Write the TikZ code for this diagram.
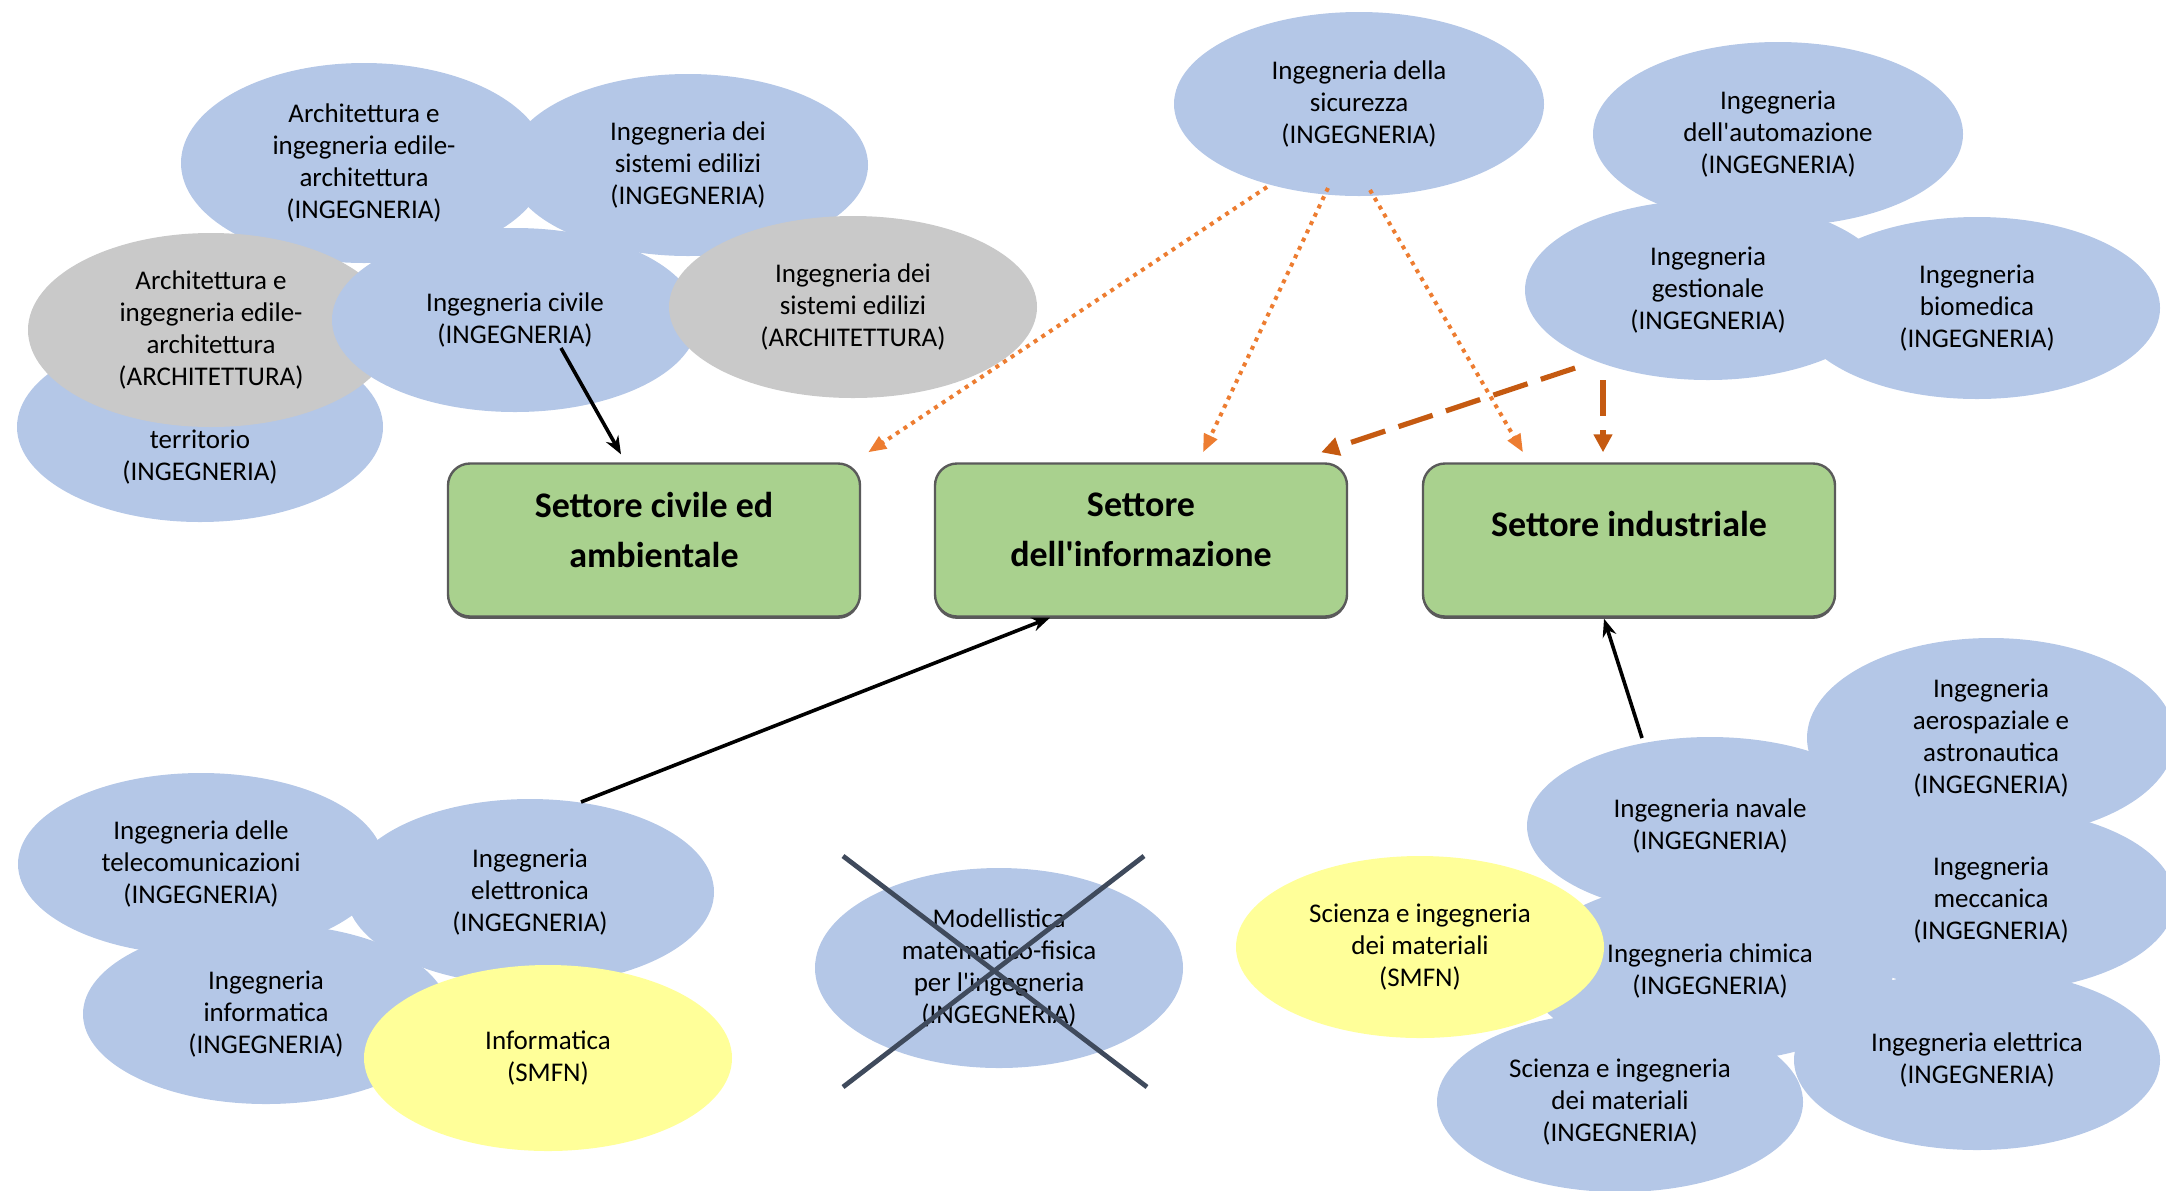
\documentclass[tikz,border=0pt]{standalone}
\usepackage{fontspec}
\setmainfont{Carlito}
\usetikzlibrary{shapes.geometric,arrows.meta,calc,shadows}

\definecolor{ellblue}{HTML}{B4C7E7}
\definecolor{ellgray}{HTML}{C9C9C9}
\definecolor{ellyellow}{HTML}{FFFF99}
\definecolor{boxgreen}{HTML}{A9D18E}
\definecolor{boxline}{HTML}{5A5A5A}
\definecolor{dotorange}{HTML}{ED7D31}
\definecolor{dashbrown}{HTML}{C55A11}
\definecolor{crossline}{HTML}{3F4A5C}
\newcommand\apo{\XeTeXglyph\XeTeXcharglyph"27\relax}

\begin{document}
\begin{tikzpicture}[x=0.5pt,y=-0.5pt,
  elltext/.style={align=center, font=\fontsize{13.5}{16}\selectfont, text=black},
  ell/.style={ellipse, inner sep=0pt, minimum width=184pt, minimum height=92pt, elltext},
  bl/.style={ell, fill=ellblue},
  gr/.style={ell, fill=ellgray},
  yl/.style={ell, fill=ellyellow},
  sectortext/.style={align=center, font=\bfseries\fontsize{18}{25}\selectfont, text=black},
  sector/.style={rectangle, rounded corners=11pt, fill=boxgreen, draw=boxline,
    line width=1.2pt, minimum width=206pt, minimum height=76.5pt,
    drop shadow={shadow xshift=0pt, shadow yshift=-1.2pt, fill=boxline, opacity=1}},
  blackarrow/.style={draw=black, line width=1.8pt, -{Stealth[length=9pt,width=7pt]}},
  dotarrow/.style={draw=dotorange, line width=2pt, dash pattern=on 2pt off 2.6pt,
    -{Triangle[length=9pt,width=7pt]}},
  dasharrow/.style={draw=dashbrown, line width=2.6pt, dash pattern=on 18pt off 7pt,
    -{Triangle[length=9pt,width=9pt]}},
  crossx/.style={draw=crossline, line width=2.4pt}
]
\useasboundingbox (0,0) rectangle (2166,1190);

% ---- top-left cluster
\node[bl, minimum width=183pt, minimum height=100pt] (a1) at (364,163)
  {Architettura e\\ingegneria edile-\\architettura\\(INGEGNERIA)};
\node[bl, minimum width=180pt, minimum height=91pt] (a2) at (688,165)
  {Ingegneria dei\\sistemi edilizi\\(INGEGNERIA)};
\node[bl, minimum width=183pt, minimum height=95pt,
  label={[elltext, yshift=-15pt]center:{territorio\\(INGEGNERIA)}}] (a4) at (200,427) {};
\node[gr, minimum width=183pt, minimum height=97pt] (a3) at (211,330)
  {Architettura e\\ingegneria edile-\\architettura\\(ARCHITETTURA)};
\node[bl, minimum width=183pt, minimum height=92pt] (civ) at (515,320)
  {Ingegneria civile\\(INGEGNERIA)};
\node[gr, minimum width=184pt, minimum height=91pt] (a6) at (853,307)
  {Ingegneria dei\\sistemi edilizi\\(ARCHITETTURA)};

% ---- top-right cluster
\node[bl, minimum width=185pt, minimum height=92pt] (sic) at (1359,104)
  {Ingegneria della\\sicurezza\\(INGEGNERIA)};
\node[bl, minimum width=185pt, minimum height=92pt] (aut) at (1778,134)
  {Ingegneria\\dell\apo automazione\\(INGEGNERIA)};
\node[bl, minimum width=183pt, minimum height=91pt] (bio) at (1977,308)
  {Ingegneria\\biomedica\\(INGEGNERIA)};
\node[bl, minimum width=183pt, minimum height=90pt] (ges) at (1708,290)
  {Ingegneria\\gestionale\\(INGEGNERIA)};

% ---- sector boxes
\node[sector, label={[sectortext, yshift=5pt]center:{Settore civile ed\\ambientale}}] (b1) at (654,540) {};
\node[sector, label={[sectortext, yshift=5pt]center:{Settore\\dell\apo informazione}}] (b2) at (1141,540) {};
\node[sector, label={[sectortext, yshift=8pt]center:{Settore industriale}}] (b3) at (1629,540) {};

% ---- bottom-left cluster
\node[bl, minimum width=183pt, minimum height=91pt] (tel) at (201,864)
  {Ingegneria delle\\telecomunicazioni\\(INGEGNERIA)};
\node[bl, minimum width=184pt, minimum height=93pt] (ele) at (530,892)
  {Ingegneria\\elettronica\\(INGEGNERIA)};
\node[bl, minimum width=183pt, minimum height=90pt] (inf) at (266,1014)
  {Ingegneria\\informatica\\(INGEGNERIA)};
\node[yl, minimum width=184pt, minimum height=93pt] (infs) at (548,1058)
  {Informatica\\(SMFN)};

% ---- crossed-out ellipse
\node[bl, minimum width=184pt, minimum height=100pt] (mod) at (999,968)
  {Modellistica\\matematico-fisica\\per l\apo ingegneria\\(INGEGNERIA)};
\draw[crossx] ([shift={(-156,-112)}]mod.center) -- ([shift={(148,119)}]mod.center);
\draw[crossx] ([shift={(145,-112)}]mod.center) -- ([shift={(-156,119)}]mod.center);

% ---- bottom-right cluster
\node[bl, minimum width=184pt, minimum height=100pt] (aer) at (1991,738)
  {Ingegneria\\aerospaziale e\\astronautica\\(INGEGNERIA)};
\node[bl, minimum width=183pt, minimum height=89pt] (nav) at (1710,826)
  {Ingegneria navale\\(INGEGNERIA)};
\node[bl, minimum width=184pt, minimum height=92pt] (mec) at (1991,900)
  {Ingegneria\\meccanica\\(INGEGNERIA)};
\node[bl, minimum width=183pt, minimum height=91pt] (chi) at (1710,971)
  {Ingegneria chimica\\(INGEGNERIA)};
\node[bl, minimum width=183pt, minimum height=90pt] (elt) at (1977,1060)
  {Ingegneria elettrica\\(INGEGNERIA)};
\node[bl, minimum width=183pt, minimum height=90pt] (sci) at (1620,1102)
  {Scienza e ingegneria\\dei materiali\\(INGEGNERIA)};
\node[yl, minimum width=184pt, minimum height=91pt] (scs) at (1420,947)
  {Scienza e ingegneria\\dei materiali\\(SMFN)};

% ---- connectors
\draw[blackarrow] ([shift={(46,28)}]civ.center) -- ([shift={(-33,-8)}]b1.north);
\draw[blackarrow] ([shift={(51,-90)}]ele.center) -- ([shift={(-91,0)}]b2.south);
\draw[blackarrow] ([shift={(-68,-88)}]nav.center) -- ([shift={(-25,1)}]b3.south);

\draw[dotarrow] ([shift={(-92,83)}]sic.center) -- ([shift={(7,-10)}]b1.north east);
\draw[dotarrow] ([shift={(-31,84)}]sic.center) -- ([shift={(62,-10)}]b2.north);
\draw[dotarrow] ([shift={(11,86)}]sic.center) -- ([shift={(-106,-10)}]b3.north);

\draw[dasharrow] ([shift={(-133,78)}]ges.center) -- ([shift={(-27,-10)}]b2.north east);
\draw[dasharrow] ([shift={(-105,90)}]ges.center) -- ([shift={(-26,-10)}]b3.north);
\end{tikzpicture}
\end{document}
